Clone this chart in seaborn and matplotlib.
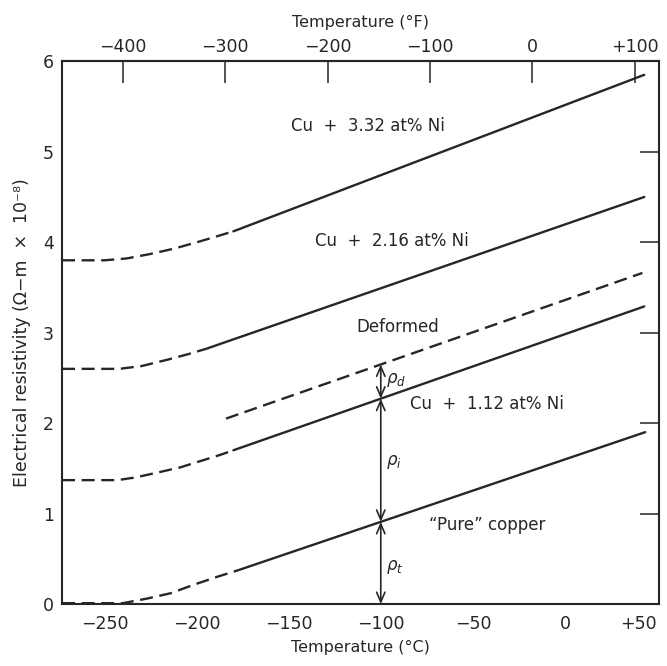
import numpy as np
import pandas as pd
import matplotlib
matplotlib.use("Agg")
import matplotlib.pyplot as plt
import seaborn as sns

# Resistivity vs temperature for copper and Cu-Ni alloys
# each curve: low-temperature dashed part + solid part
T_332_low = [-273, -250, -238, -225, -212, -198, -180]
rho_332_low = [3.80, 3.80, 3.82, 3.87, 3.93, 4.01, 4.12]
T_332_high = [-180, 43]
rho_332_high = [4.12, 5.85]

T_216_low = [-273, -242, -230, -216, -205, -195]
rho_216_low = [2.60, 2.60, 2.63, 2.70, 2.76, 2.82]
T_216_high = [-195, 43]
rho_216_high = [2.82, 4.50]

T_def = [-184, 42]
rho_def = [2.05, 3.66]

T_112_low = [-273, -243, -233, -222, -209, -198, -187, -180]
rho_112_low = [1.37, 1.37, 1.40, 1.45, 1.51, 1.58, 1.65, 1.70]
T_112_high = [-180, 43]
rho_112_high = [1.70, 3.29]

T_cu_low = [-273, -240, -227, -214, -202, -189, -178]
rho_cu_low = [0.01, 0.01, 0.06, 0.12, 0.21, 0.30, 0.37]
T_cu_high = [-178, 43.5]
rho_cu_high = [0.37, 1.90]

c_ticks = [-250, -200, -150, -100, -50, 0, 50]
c_labels = ["\u2212250", "\u2212200", "\u2212150", "\u2212100", "\u221250", "0", "+50"]
f_ticks = [-400, -300, -200, -100, 0, 100]
f_labels = ["\u2212400", "\u2212300", "\u2212200", "\u2212100", "0", "+100"]
rho_ticks = [0, 1, 2, 3, 4, 5, 6]

T_arrow = -100

sns.set_style("white")
plt.rcParams["font.family"] = ["DejaVu Sans"]

ink = "#262626"
fig = plt.figure(figsize=(6.67, 6.66), dpi=100)
ax = fig.add_axes([0.093, 0.093, 0.895, 0.815])

dash = (0, (5.5, 2.8))
segments = [
    (T_332_low, rho_332_low, dash), (T_332_high, rho_332_high, "-"),
    (T_216_low, rho_216_low, dash), (T_216_high, rho_216_high, "-"),
    (T_def, rho_def, dash),
    (T_112_low, rho_112_low, dash), (T_112_high, rho_112_high, "-"),
    (T_cu_low, rho_cu_low, dash), (T_cu_high, rho_cu_high, "-"),
]
for T, rho, ls in segments:
    df = pd.DataFrame({"T": T, "rho": rho})
    sns.lineplot(data=df, x="T", y="rho", ax=ax, color=ink, linewidth=1.7,
                 linestyle=ls, sort=False, estimator=None)

ax.set_xlim(-273, 51)
ax.set_ylim(0, 6)
ax.set_xticks(c_ticks)
ax.set_xticklabels(c_labels)
ax.get_xticklabels()[-1].set_horizontalalignment("right")
ax.set_yticks(rho_ticks)
ax.tick_params(direction="in", length=14, width=1.1, labelsize=12.5,
               colors=ink, right=True, pad=6)
ax.tick_params(axis="x", pad=8)
for s in ax.spines.values():
    s.set_linewidth(1.5)
    s.set_color(ink)
ax.set_xlabel("Temperature (\u00b0C)", fontsize=11.5, color=ink, labelpad=5)
ax.set_ylabel("Electrical resistivity (\u03a9\u2212m  \u00d7  10\u207b\u2078)",
              fontsize=12.5, color=ink, labelpad=8)

top = ax.secondary_xaxis("top", functions=(lambda c: c * 9 / 5 + 32,
                                           lambda f: (f - 32) * 5 / 9))
top.set_xticks(f_ticks)
top.set_xticklabels(f_labels)
top.tick_params(direction="in", length=16, width=1.1, labelsize=12.5, colors=ink, pad=4)
top.spines["top"].set_linewidth(1.5)
top.set_xlabel("Temperature (\u00b0F)", fontsize=11.5, color=ink, labelpad=8)

# curve labels
ax.text(-107, 5.28, "Cu  +  3.32 at% Ni", fontsize=12, color=ink, ha="center", va="center")
ax.text(-94, 4.01, "Cu  +  2.16 at% Ni", fontsize=12, color=ink, ha="center", va="center")
ax.text(-91, 3.06, "Deformed", fontsize=12, color=ink, ha="center", va="center")
ax.text(-84, 2.21, "Cu  +  1.12 at% Ni", fontsize=12, color=ink, ha="left", va="center")
ax.text(-74, 0.87, "\u201cPure\u201d copper", fontsize=12, color=ink, ha="left", va="center")

# Matthiessen's rule arrows at one temperature
r_def = np.interp(T_arrow, T_def, rho_def)
r_112 = np.interp(T_arrow, T_112_high, rho_112_high)
r_cu = np.interp(T_arrow, T_cu_high, rho_cu_high)
aprops = dict(arrowstyle="<->,head_length=0.7,head_width=0.3", color=ink,
              lw=1.2, shrinkA=0, shrinkB=0)
for lo, hi in [(r_112, r_def), (r_cu, r_112), (0, r_cu)]:
    ax.annotate("", xy=(T_arrow, hi), xytext=(T_arrow, lo), arrowprops=aprops)

ax.text(-97, (r_112 + r_def) / 2 + 0.02, r"$\rho_d$", fontsize=12, color=ink, va="center")
ax.text(-97, 1.57, r"$\rho_i$", fontsize=12, color=ink, va="center")
ax.text(-97, 0.41, r"$\rho_t$", fontsize=12, color=ink, va="center")

fig.savefig("out.png", dpi=100, facecolor="white")
